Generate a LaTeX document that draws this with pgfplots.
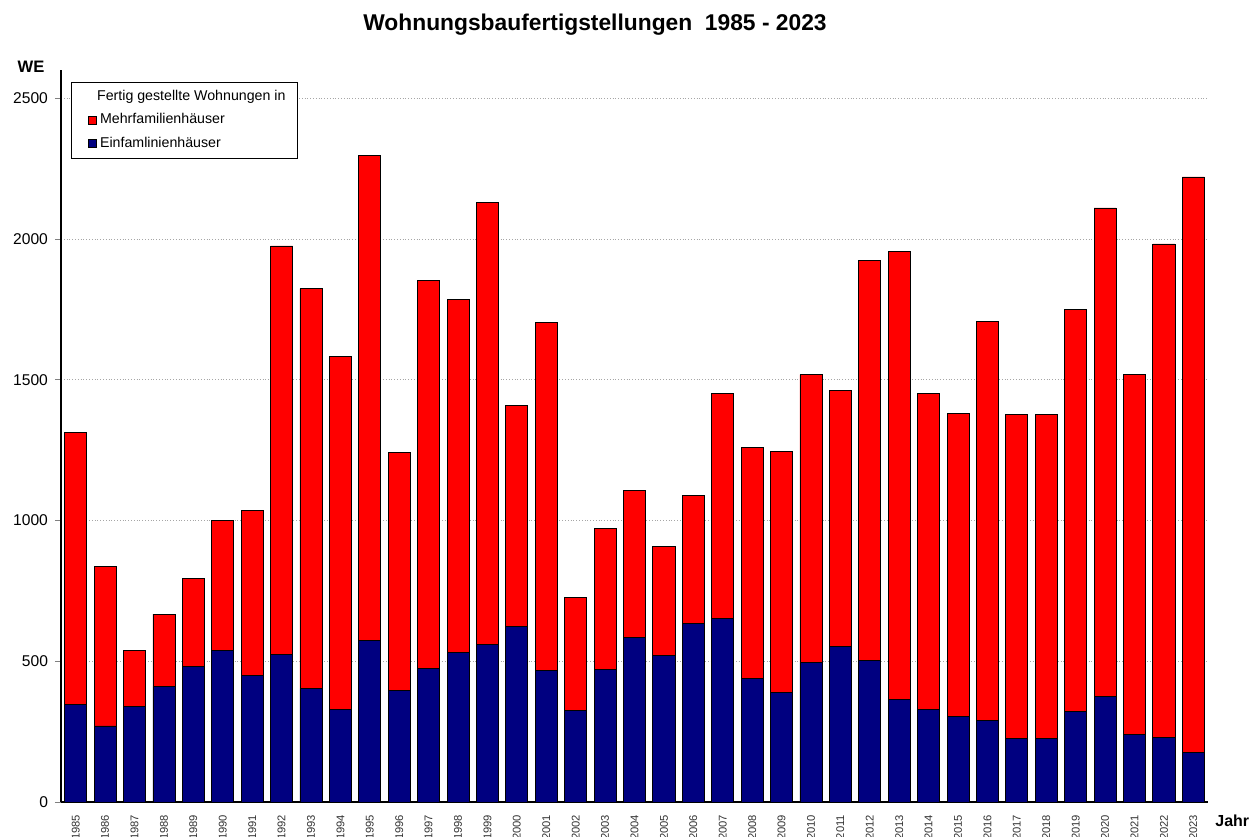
\documentclass[border=0pt]{standalone}
\usepackage{fontspec}
\setmainfont{Liberation Sans}
\usepackage{pgfplots}
\pgfplotsset{compat=1.18}
\definecolor{mfh}{RGB}{255,0,0}
\definecolor{efh}{RGB}{0,0,128}
\begin{document}
\begin{tikzpicture}
\begin{axis}[name=ax,
  scale only axis, width=573.5pt, height=366pt,
  ybar stacked, bar width=0.75,
  xmin=-0.5, xmax=38.5, ymin=0, ymax=2600,
  axis x line*=bottom, axis y line*=left,
  axis line style={black, line width=0.6pt},
  xtick={0,...,38},
  xticklabels={1985,1986,1987,1988,1989,1990,1991,1992,1993,1994,1995,1996,1997,1998,1999,2000,2001,2002,2003,2004,2005,2006,2007,2008,2009,2010,2011,2012,2013,2014,2015,2016,2017,2018,2019,2020,2021,2022,2023},
  x tick label style={rotate=90, anchor=east, font=\fontsize{5.6}{6}\selectfont, text=black!80},
  major x tick style={draw=none},
  ytick={0,500,1000,1500,2000,2500},
  y tick label style={font=\fontsize{7.8}{9}\selectfont},
  tick align=outside, major tick length=3pt,
  /pgf/number format/assume math mode=true,
  /pgf/number format/1000 sep={},
  ymajorgrids, grid style={densely dotted, gray!70, line width=0.4pt},
  legend cell align=left,
  legend style={at={(0,1)}, anchor=north west, xshift=5pt, yshift=-6pt,
    font=\fontsize{7.1}{8}\selectfont, draw=black, line width=0.4pt,
    inner xsep=4pt, inner ysep=2pt, row sep=1pt},
  legend image code/.code={\path (0pt,0pt); \draw[#1, draw=black, line width=0.3pt] (4pt,-2pt) rectangle (8pt,2pt);},
]
\addplot[fill=efh, draw=black, line width=0.4pt, forget plot] coordinates {
(0,347) (1,270) (2,340) (3,411) (4,482) (5,539) (6,450) (7,525) (8,404) (9,330)
(10,574) (11,397) (12,475) (13,532) (14,560) (15,624) (16,468) (17,326) (18,472) (19,585)
(20,521) (21,635) (22,652) (23,440) (24,390) (25,496) (26,553) (27,504) (28,365) (29,330)
(30,305) (31,291) (32,227) (33,227) (34,323) (35,376) (36,241) (37,230) (38,177)};
\addplot[fill=mfh, draw=black, line width=0.4pt, forget plot] coordinates {
(0,965) (1,567) (2,199) (3,256) (4,312) (5,461) (6,585) (7,1450) (8,1419) (9,1252)
(10,1724) (11,844) (12,1376) (13,1252) (14,1568) (15,784) (16,1234) (17,401) (18,500) (19,521)
(20,387) (21,454) (22,798) (23,819) (24,855) (25,1022) (26,908) (27,1418) (28,1592) (29,1120)
(30,1074) (31,1415) (32,1149) (33,1149) (34,1425) (35,1734) (36,1277) (37,1752) (38,2043)};
\addlegendimage{empty legend}
\addlegendentry{\hspace{-1.5pt}Fertig gestellte Wohnungen in\hspace{2pt}}
\addlegendimage{fill=mfh}
\addlegendentry{Mehrfamilienhäuser}
\addlegendimage{fill=efh}
\addlegendentry{Einfamlinienhäuser}
\end{axis}
\node[font=\bfseries\fontsize{11.4}{13}\selectfont] at ([xshift=267pt, yshift=22.5pt]ax.north west) {Wohnungsbaufertigstellungen\ \ 1985 - 2023};
\node[inner sep=0pt, font=\bfseries\fontsize{8.3}{10}\selectfont, anchor=base] at ([xshift=-15pt, yshift=-1.5pt]ax.north west) {WE};
\node[inner sep=0pt, font=\bfseries\fontsize{8}{10}\selectfont, anchor=base west] at ([xshift=3.5pt, yshift=-12.5pt]ax.south east) {Jahr};
\pgfresetboundingbox
\path[use as bounding box] ([shift={(-30.5pt,-17.5pt)}]ax.south west) rectangle ([shift={(23pt,35pt)}]ax.north east);
\end{tikzpicture}
\end{document}
